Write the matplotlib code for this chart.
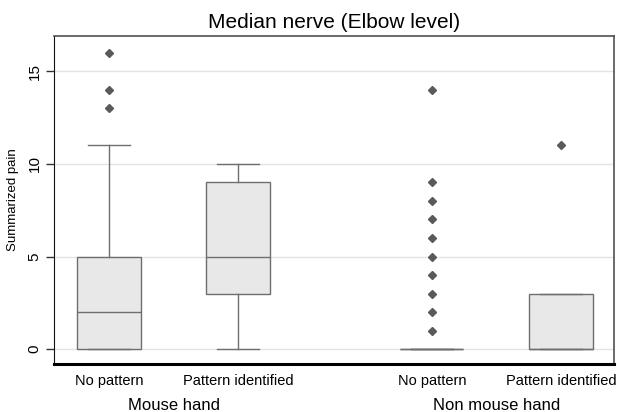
import matplotlib
matplotlib.use("Agg")
import matplotlib.pyplot as plt

plt.rcParams['font.family'] = ['Liberation Sans', 'DejaVu Sans']

# box summaries
groups = ['Mouse hand', 'Non mouse hand']
labels = ['No pattern', 'Pattern identified', 'No pattern', 'Pattern identified']
positions = [1, 2, 3.5, 4.5]
q1 = [0, 3, 0, 0]
med = [2, 5, 0, 0]
q3 = [5, 9, 0, 3]
whislo = [0, 0, 0, 0]
whishi = [11, 10, 0, 3]
fliers = [[13, 14, 16], [], [1, 2, 3, 4, 5, 6, 7, 8, 9, 14], [11]]

stats = []
for i in range(len(labels)):
    stats.append(dict(q1=q1[i], med=med[i], q3=q3[i], whislo=whislo[i],
                      whishi=whishi[i], fliers=fliers[i], label=labels[i]))

fig = plt.figure(figsize=(6.17, 4.12), dpi=100)
ax = fig.add_axes([0.0875, 0.1165, 0.9075, 0.7961])

edge = '#6e6e6e'
ax.bxp(stats, positions=positions, widths=0.49, patch_artist=True,
       boxprops=dict(facecolor='#e8e8e8', edgecolor=edge, linewidth=1.0),
       medianprops=dict(color=edge, linewidth=1.0),
       whiskerprops=dict(color=edge, linewidth=1.0),
       capprops=dict(color=edge, linewidth=1.0),
       capwidths=0.33,
       flierprops=dict(marker='D', markersize=4, markerfacecolor='#5a5a5a',
                       markeredgecolor='#5a5a5a'))

ax.set_xlim(0.574, 4.91)
ax.set_ylim(-0.8, 16.9)
ax.set_yticks([0, 5, 10, 15])
ax.yaxis.grid(True, color='#e3e3e3', linewidth=1)
ax.set_axisbelow(True)
ax.tick_params(axis='y', length=6, width=1, color='#333333', labelsize=11,
               labelrotation=90, pad=3)
for t in ax.get_yticklabels():
    t.set_va('center')
ax.tick_params(axis='x', length=0, labelsize=10.5, pad=7)
ax.set_xticks(positions)
ax.set_xticklabels(labels)
ax.set_ylabel('Summarized pain', fontsize=9.5, labelpad=6)
ax.set_title('Median nerve (Elbow level)', fontsize=15, pad=6)

for s in ['top', 'right']:
    ax.spines[s].set_color('#505050')
    ax.spines[s].set_linewidth(1.2)
ax.spines['left'].set_color('#111111')
ax.spines['bottom'].set_color('black')
ax.spines['bottom'].set_linewidth(2.2)

# group labels under the tick labels
for g, (a, b) in zip(groups, [(1, 2), (3.5, 4.5)]):
    ax.text((a + b) / 2, -0.125, g, transform=ax.get_xaxis_transform(),
            ha='center', va='center', fontsize=12)

fig.savefig('out.png', dpi=100)
